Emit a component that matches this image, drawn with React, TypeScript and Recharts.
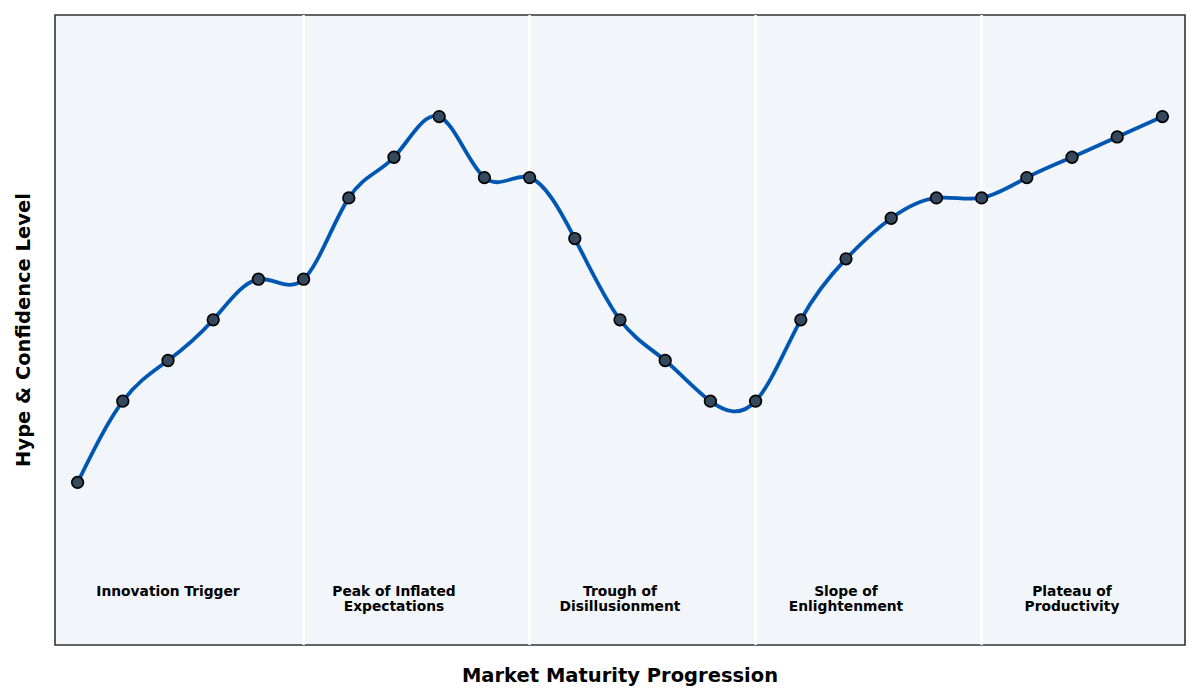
import React from 'react';
import {
  ComposedChart,
  Line,
  XAxis,
  YAxis,
  ReferenceArea,
  ReferenceLine,
  Scatter,
} from 'recharts';

// hype level per step (0..24)
const hypeValues = [
  10, 30, 40, 50, 60, 60, 80, 90, 100, 85, 85, 70, 50,
  40, 30, 30, 50, 65, 75, 80, 80, 85, 90, 95, 100,
];

const phaseNames = [
  ['Innovation Trigger'],
  ['Peak of Inflated', 'Expectations'],
  ['Trough of', 'Disillusionment'],
  ['Slope of', 'Enlightenment'],
  ['Plateau of', 'Productivity'],
];
const phaseCenters = [2, 7, 12, 17, 22];
const phaseBoundaries = [5, 10, 15, 20];
const labelLevel = -15;

const FONT = '"DejaVu Sans", sans-serif';

const curveData = hypeValues.map((v, i) => ({ step: i, hype: v }));
const phaseData = phaseCenters.map((c, i) => ({ step: c, level: labelLevel, lines: phaseNames[i] }));

const PhaseLabel = (props: any) => {
  const { cx, cy, payload } = props;
  return (
    <text x={cx} textAnchor="middle" fontFamily={FONT} fontWeight="bold" fontSize={13.8} fill="#000">
      {payload.lines.map((t: string, i: number) => (
        <tspan key={i} x={cx} y={cy + 11.5 + i * 15.5}>{t}</tspan>
      ))}
    </text>
  );
};

const Marker = (props: any) => {
  const { cx, cy } = props;
  return <circle cx={cx} cy={cy} r={5.8} fill="#34495e" stroke="#000" strokeWidth={1.7} />;
};

export default function App() {
  return (
    <div style={{ position: 'absolute', left: 0, top: 0, width: 1200, height: 700, background: '#fff' }}>
      <ComposedChart
        width={1200}
        height={700}
        data={curveData}
        margin={{ top: 15, right: 15, bottom: 55, left: 55 }}
      >
        <XAxis type="number" dataKey="step" domain={[-0.5, 24.5]} hide />
        <YAxis type="number" domain={[-30, 125]} hide />
        <ReferenceArea x1={-0.5} x2={24.5} y1={-30} y2={125} fill="#f2f5f9" fillOpacity={1} stroke="none" />
        {phaseBoundaries.map((b) => (
          <ReferenceLine key={b} x={b} stroke="#ffffff" strokeWidth={2.5} />
        ))}
        <Scatter
          data={phaseData}
          dataKey="level"
          shape={<PhaseLabel />}
          isAnimationActive={false}
        />
        <Line
          type="natural"
          dataKey="hype"
          stroke="#0057b3"
          strokeWidth={3.8}
          dot={<Marker />}
          activeDot={false}
          isAnimationActive={false}
        />
        <ReferenceArea x1={-0.5} x2={24.5} y1={-30} y2={125} fill="none" stroke="#333333" strokeWidth={1.6} />
      </ComposedChart>
      <div
        style={{
          position: 'absolute', left: 55, width: 1130, top: 664, textAlign: 'center',
          fontFamily: FONT, fontWeight: 'bold', fontSize: 19.5, color: '#000', lineHeight: '24px',
        }}
      >
        Market Maturity Progression
      </div>
      <div
        style={{
          position: 'absolute', left: 24, top: 330, width: 0, height: 0,
        }}
      >
        <div
          style={{
            position: 'absolute', transform: 'translate(-50%, -50%) rotate(-90deg)', whiteSpace: 'nowrap',
            fontFamily: FONT, fontWeight: 'bold', fontSize: 19.5, color: '#000', lineHeight: '24px',
          }}
        >
          Hype &amp; Confidence Level
        </div>
      </div>
    </div>
  );
}
